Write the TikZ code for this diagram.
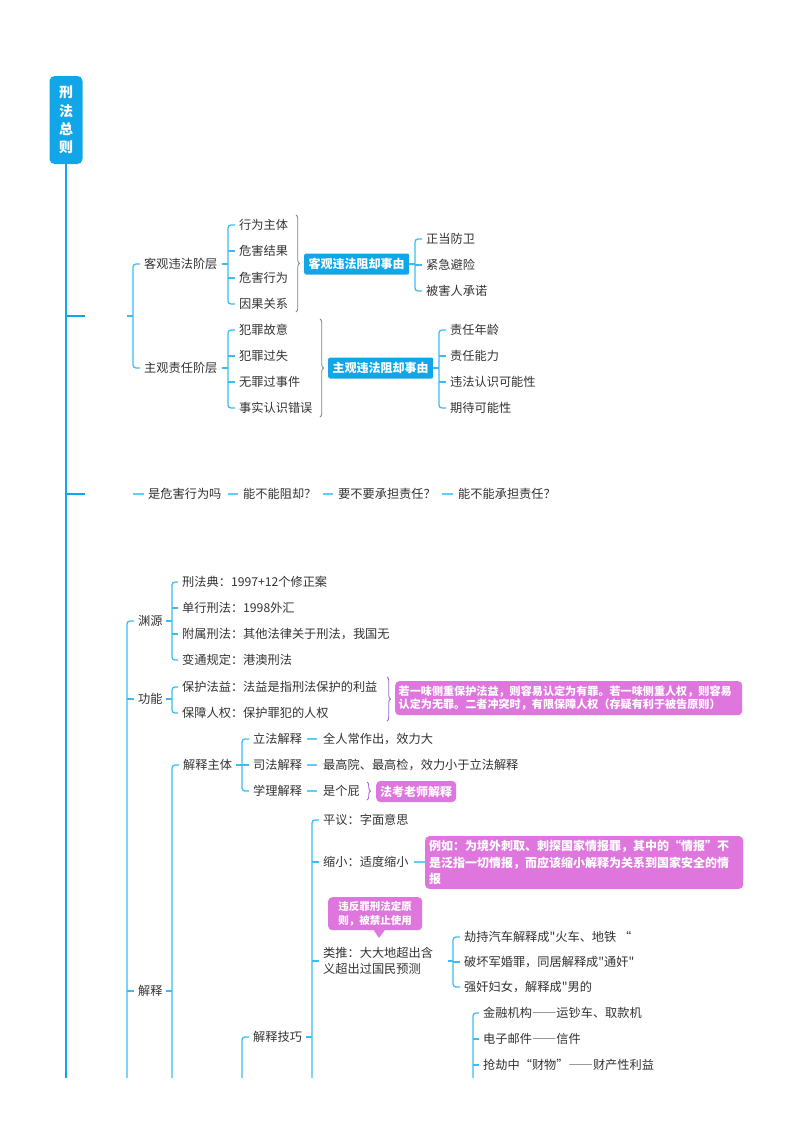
\documentclass[tikz,border=0pt]{standalone}
\usepackage{fontspec}
\newfontfamily\cjk{Noto Sans CJK SC}
\newcommand\fwd[1]{{\addfontfeatures{RawFeature=+fwid}#1}}
\usetikzlibrary{decorations.pathreplacing,calc}
\definecolor{mainblue}{RGB}{17,166,232}
\definecolor{brblue}{RGB}{60,188,240}
\definecolor{dashblue}{RGB}{100,205,245}
\definecolor{txt}{RGB}{50,50,50}
\definecolor{bracegreen}{RGB}{112,140,122}
\definecolor{bracepurple}{RGB}{155,105,205}
\definecolor{pinkbox}{RGB}{222,118,222}
\tikzset{
 t/.style={font=\cjk\fontsize{12.2}{14}\selectfont, text=txt, inner sep=0pt, anchor=west},
 trunk/.style={draw=mainblue, line width=2.6pt},
 br/.style={draw=brblue, line width=1.3pt, rounded corners=3pt},
 tk/.style={draw=brblue, line width=1.3pt},
 dsh/.style={draw=dashblue, line width=1.3pt},
 bluebox/.style={fill=mainblue, text=white, font=\cjk\bfseries\fontsize{12}{14}\selectfont, rounded corners=2pt, inner xsep=4.5pt, inner ysep=0pt, minimum height=21pt, anchor=west},
 pinkbx/.style={fill=pinkbox, text=white, rounded corners=4pt, anchor=north west, align=left},
 gbrace/.style={draw=bracegreen, line width=0.8pt, decorate, decoration={brace, amplitude=3.5pt}},
 pbrace/.style={draw=bracepurple, line width=0.9pt, decorate, decoration={brace, amplitude=3.5pt}},
}
\begin{document}
\begin{tikzpicture}[x=1pt,y=-1pt]
\useasboundingbox (0,0) rectangle (800,1132);
% root
\node[fill=mainblue, text=white, rounded corners=5pt, minimum width=33pt, minimum height=88pt, inner sep=0pt, align=center, font=\cjk\bfseries\fontsize{14}{18.3}\selectfont] (root) at (66,120) {刑\\法\\总\\则};
\coordinate (trunkend) at (66,1078);
\draw[trunk] (root.south) -- (trunkend);

% ---------- section 1
\coordinate (j1) at (66,316);
\coordinate (e1) at (85,316);
\draw[trunk, line width=2.2pt] (j1) -- (e1);
\coordinate (s1) at (127,316);
\coordinate (x1) at (133,0);
\coordinate (x2) at (228,0);
\coordinate (x3) at (415,0);
\coordinate (x4) at (439,0);
\node[t] (kg) at (144,264) {客观违法阶层};
\node[t] (zg) at (144,368) {主观责任阶层};
\draw[tk] (s1) -- (s1 -| x1);
\draw[br] ([xshift=-4pt]kg.west) -- (kg.west -| x1) -- (zg.west -| x1) -- ([xshift=-4pt]zg.west);

\node[t] (a1) at (239,225) {行为主体};
\node[t] (a2) at (239,251) {危害结果};
\node[t] (a3) at (239,278) {危害行为};
\node[t] (a4) at (239,304) {因果关系};
\draw[tk] ([xshift=4pt]kg.east) -- (kg.east -| x2);
\draw[br] ([xshift=-4pt]a1.west) -- (a1.west -| x2) -- (a4.west -| x2) -- ([xshift=-4pt]a4.west);
\draw[tk] (a2.west -| x2) -- ([xshift=-4pt]a2.west);
\draw[tk] (a3.west -| x2) -- ([xshift=-4pt]a3.west);
\coordinate (gb1a) at (296,215);
\coordinate (gb1b) at (296,312);
\draw[gbrace] (gb1a) -- (gb1b);
\node[bluebox] (kbox) at (304,264) {客观违法阻却事由};
\node[t] (d1) at (426,239) {正当防卫};
\node[t] (d2) at (426,265) {紧急避险};
\node[t] (d3) at (426,291) {被害人承诺};
\draw[tk] (kbox.east) -- (kbox.east -| x3);
\draw[br] ([xshift=-4pt]d1.west) -- (d1.west -| x3) -- (d3.west -| x3) -- ([xshift=-4pt]d3.west);
\draw[tk] (d2.west -| x3) -- ([xshift=-4pt]d2.west);

\node[t] (b1) at (239,330) {犯罪故意};
\node[t] (b2) at (239,356) {犯罪过失};
\node[t] (b3) at (239,382) {无罪过事件};
\node[t] (b4) at (239,408) {事实认识错误};
\draw[tk] ([xshift=4pt]zg.east) -- (zg.east -| x2);
\draw[br] ([xshift=-4pt]b1.west) -- (b1.west -| x2) -- (b4.west -| x2) -- ([xshift=-4pt]b4.west);
\draw[tk] (b2.west -| x2) -- ([xshift=-4pt]b2.west);
\draw[tk] (b3.west -| x2) -- ([xshift=-4pt]b3.west);
\coordinate (gb2a) at (320,319);
\coordinate (gb2b) at (320,417);
\draw[gbrace] (gb2a) -- (gb2b);
\node[bluebox] (zbox) at (328,368) {主观违法阻却事由};
\node[t] (r1) at (450,330) {责任年龄};
\node[t] (r2) at (450,356) {责任能力};
\node[t] (r3) at (450,382) {违法认识可能性};
\node[t] (r4) at (450,408) {期待可能性};
\draw[tk] (zbox.east) -- (zbox.east -| x4);
\draw[br] ([xshift=-4pt]r1.west) -- (r1.west -| x4) -- (r4.west -| x4) -- ([xshift=-4pt]r4.west);
\draw[tk] (r2.west -| x4) -- ([xshift=-4pt]r2.west);
\draw[tk] (r3.west -| x4) -- ([xshift=-4pt]r3.west);

% ---------- section 2
\coordinate (j2) at (66,494);
\coordinate (e2) at (85,494);
\draw[trunk, line width=2.2pt] (j2) -- (e2);
\node[t] (q1) at (148,494) {是危害行为吗};
\node[t] (q2) at (243,494) {能不能阻却？};
\node[t] (q3) at (338,494) {要不要承担责任？};
\node[t] (q4) at (458,494) {能不能承担责任？};
\draw[dsh] ([xshift=-15pt]q1.west) -- ([xshift=-4pt]q1.west);
\draw[dsh] ([xshift=6pt]q1.east) -- ([xshift=-5pt]q2.west);
\draw[dsh] ([xshift=6pt]q2.east) -- ([xshift=-5pt]q3.west);
\draw[dsh] ([xshift=6pt]q3.east) -- ([xshift=-5pt]q4.west);

% ---------- section 3
\coordinate (x5) at (127,0);
\coordinate (x5end) at (127,1078);
\coordinate (x6) at (172,0);
\coordinate (x6end) at (172,1078);
\coordinate (x8) at (242,0);
\coordinate (x8end) at (242,1078);
\coordinate (x9) at (312,0);
\coordinate (x9end) at (312,1078);
\coordinate (x10) at (453,0);
\coordinate (x11) at (473,0);
\coordinate (x11end) at (473,1078);

\node[t] (y1) at (138,621) {渊源};
\node[t] (y2) at (138,699) {功能};
\node[t] (y3) at (138,991) {解释};
\draw[br] ([xshift=-4pt]y1.west) -- (y1.west -| x5) -- (x5end);
\draw[tk] (y2.west -| x5) -- ([xshift=-4pt]y2.west);
\draw[tk] (y3.west -| x5) -- ([xshift=-4pt]y3.west);

\node[t] (u1) at (182,582) {刑法典：1997+12个修正案};
\node[t] (u2) at (182,608) {单行刑法：1998外汇};
\node[t] (u3) at (182,634) {附属刑法：其他法律关于刑法，我国无};
\node[t] (u4) at (182,660) {变通规定：港澳刑法};
\draw[tk] ([xshift=3pt]y1.east) -- (y1.east -| x6);
\draw[br] ([xshift=-4pt]u1.west) -- (u1.west -| x6) -- (u4.west -| x6) -- ([xshift=-4pt]u4.west);
\draw[tk] (u2.west -| x6) -- ([xshift=-4pt]u2.west);
\draw[tk] (u3.west -| x6) -- ([xshift=-4pt]u3.west);

\node[t] (f1) at (182,687) {保护法益：法益是指刑法保护的利益};
\node[t] (f2) at (182,713) {保障人权：保护罪犯的人权};
\draw[tk] ([xshift=3pt]y2.east) -- (y2.east -| x6);
\draw[br] ([xshift=-4pt]f1.west) -- (f1.west -| x6) -- (f2.west -| x6) -- ([xshift=-4pt]f2.west);
\coordinate (pb1a) at (387,677);
\coordinate (pb1b) at (387,721);
\draw[pbrace] (pb1a) -- (pb1b);
\node[pinkbx, font=\cjk\bfseries\fontsize{11.1}{12.5}\selectfont, text width=340pt, inner xsep=3.5pt, inner ysep=4.5pt, minimum height=34pt] (p1) at (395,681) {若一味侧重保护法益，则容易认定为有罪。若一味侧重人权，则容易\\认定为无罪。二者冲突时，有限保障人权（存疑有利于被告原则）};

\node[t] (g1) at (183,765) {解释主体};
\draw[tk] ([xshift=3pt]y3.east) -- (y3.east -| x6);
\draw[br] ([xshift=-4pt]g1.west) -- (g1.west -| x6) -- (x6end);

\node[t] (h1) at (253,739) {立法解释};
\node[t] (h2) at (253,765) {司法解释};
\node[t] (h3) at (253,791) {学理解释};
\draw[tk] ([xshift=4pt]g1.east) -- (g1.east -| x8);
\draw[br] ([xshift=-4pt]h1.west) -- (h1.west -| x8) -- (h3.west -| x8) -- ([xshift=-4pt]h3.west);
\draw[tk] (h2.west -| x8) -- ([xshift=-4pt]h2.west);
\node[t] (k1) at (323,739) {全人常作出，效力大};
\node[t] (k2) at (323,765) {最高院、最高检，效力小于立法解释};
\node[t] (k3) at (323,791) {是个屁};
\draw[dsh] ([xshift=5pt]h1.east) -- ([xshift=-6pt]k1.west);
\draw[dsh] ([xshift=5pt]h2.east) -- ([xshift=-6pt]k2.west);
\draw[dsh] ([xshift=5pt]h3.east) -- ([xshift=-6pt]k3.west);
\coordinate (pb2a) at (367,782);
\coordinate (pb2b) at (367,800);
\draw[pbrace] (pb2a) -- (pb2b);
\node[pinkbx, anchor=west, font=\cjk\bfseries\fontsize{12}{14}\selectfont, inner xsep=4pt, inner ysep=0pt, minimum height=21pt] (p2) at (376,791.5) {法考老师解释};

\node[t] (g2) at (253,1037) {解释技巧};
\draw[br] ([xshift=-4pt]g2.west) -- (g2.west -| x8) -- (x8end);
\draw[tk] ([xshift=4pt]g2.east) -- (g2.east -| x9);

\node[t] (m1) at (323,820) {平议：字面意思};
\node[t] (m2) at (323,862) {缩小：适度缩小};
\node[t, align=left, font=\cjk\fontsize{12.2}{16}\selectfont] (m3) at (323,961) {类推：大大地超出含\\义超出过国民预测};
\draw[br] ([xshift=-4pt]m1.west) -- (m1.west -| x9) -- (x9end);
\draw[tk] (m2.west -| x9) -- ([xshift=-4pt]m2.west);
\draw[tk] (m3.west -| x9) -- ([xshift=-4pt]m3.west);

\node[pinkbx, font=\cjk\bfseries\fontsize{12}{16.5}\selectfont, text width=310pt, inner xsep=4pt, inner ysep=4pt, minimum height=52pt] (p3) at (425,836) {例如：为境外刺取、刺探国家情报罪，其中的“情报”不\\是泛指一切情报，而应该缩小解释为关系到国家安全的情\\报};
\draw[dsh] ([xshift=5pt]m2.east) -- (m2.east -| p3.west);

\node[pinkbx, font=\cjk\bfseries\fontsize{10.5}{14}\selectfont, inner xsep=8pt, inner ysep=3pt, minimum width=94pt, minimum height=33pt] (c1) at (328,897) {违反罪刑法定原\\则，被禁止使用};
\coordinate (c1tip) at (379,938);
\fill[pinkbox] ([xshift=-2pt,yshift=1pt]c1.south) -- (c1tip) -- ([xshift=10pt,yshift=1pt]c1.south) -- cycle;

\node[t] (n1) at (464,937) {劫持汽车解释成"火车、地铁 “};
\node[t] (n2) at (464,962) {破坏军婚罪，同居解释成"通奸"};
\node[t] (n3) at (464,987) {强奸妇女，解释成"男的};
\draw[tk] ([xshift=15pt]m3.east) -- (m3.east -| x10);
\draw[br] ([xshift=-4pt]n1.west) -- (n1.west -| x10) -- (n3.west -| x10) -- ([xshift=-4pt]n3.west);
\draw[tk] (n2.west -| x10) -- ([xshift=-4pt]n2.west);

\node[t] (o1) at (483,1013) {金融机构\fwd{——}运钞车、取款机};
\node[t] (o2) at (483,1039) {电子邮件\fwd{——}信件};
\node[t] (o3) at (483,1065) {抢劫中“财物”\fwd{——}财产性利益};
\draw[br] ([xshift=-4pt]o1.west) -- (o1.west -| x11) -- (x11end);
\draw[tk] (o2.west -| x11) -- ([xshift=-4pt]o2.west);
\draw[tk] (o3.west -| x11) -- ([xshift=-4pt]o3.west);
\end{tikzpicture}
\end{document}
